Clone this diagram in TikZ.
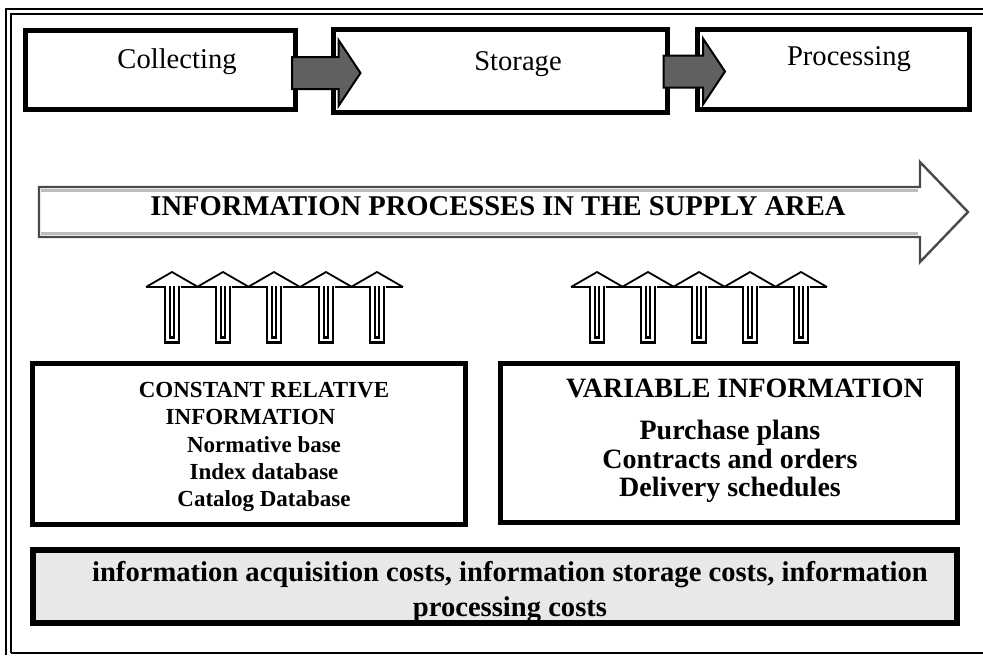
\documentclass[tikz,border=0pt]{standalone}
\usepackage{fontspec}
\setmainfont{Liberation Serif}
\usetikzlibrary{calc}
\definecolor{arrowgrey}{HTML}{606060}
\definecolor{costgrey}{HTML}{E8E8E8}
\definecolor{edgegrey}{HTML}{4A4A4A}
\definecolor{bevel}{HTML}{BDBDBD}

\begin{document}
\begin{tikzpicture}[x=0.5pt,y=-0.5pt,
    frame/.style={line width=1pt},
    stagebox/.style={draw,line width=2.5pt,inner sep=0pt},
    infobox/.style={draw,line width=2.5pt,inner sep=0pt},
    stagetext/.style={font=\fontsize{14.3}{17}\selectfont,anchor=base,inner sep=0pt},
    blockarrow/.style={draw,fill=arrowgrey,line width=1pt,line join=miter},
    headline/.style={line width=0.9pt},
    shaft/.style={double,double distance=1.35pt,line width=1.2pt}]
  \useasboundingbox (0,0) rectangle (983,655);

  % double frame, open on the right
  \draw[frame] (6,655) -- (6,9) -- (983,9);
  \draw[frame] (11,653) -- (11,14) -- (983,14);
  \draw[frame] (11,653) -- (983,653);

  % the three stages
  \node[stagebox,minimum width=135pt,minimum height=39.5pt] (collect) at (160.5,70) {};
  \node[stagebox,minimum width=167pt,minimum height=41.5pt] (store) at (500,71) {};
  \node[stagebox,minimum width=136pt,minimum height=40pt] (process) at (833.5,69.5) {};
  \node[stagetext] (collect text) at (177,68) {Collecting};
  \node[stagetext] (store text) at (518,70) {Storage};
  \node[stagetext] (process text) at (849,65) {Processing};

  % grey block arrows between the stages
  \foreach \a/\b in {collect/store,store/process} {
    \coordinate (head) at ($(\b.west)+(8,2)$);
    \coordinate (tail) at ($(\a.east)+(-6,0)$);
    \coordinate (base) at (tail |- head);
    \draw[blockarrow] ($(base)+(0,-16)$) -- ($(head)+(0,-16)$) -- ($(head)+(0,-33)$)
      -- ($(head)+(22,0)$) -- ($(head)+(0,33)$) -- ($(head)+(0,16)$)
      -- ($(base)+(0,16)$) -- cycle;
  }

  % long arrow
  \draw[fill=white,draw=edgegrey,line width=1.2pt,line join=miter]
    (39,187) -- (920,187) -- (920,162) -- (968,212) -- (920,262) -- (920,237) -- (39,237) -- cycle;
  \draw[bevel,line width=1.5pt] (41,190.5) -- (918,190.5);
  \draw[bevel,line width=1.5pt] (41,233.5) -- (918,233.5);
  \node[font=\bfseries\fontsize{14.3}{17}\selectfont,anchor=base] (flow) at (498,215)
    {INFORMATION PROCESSES IN THE SUPPLY AREA};

  % two rows of hollow up arrows
  \foreach \cx in {172,223,274,326,377,597,648,699,750,801} {
    \draw[headline] (\cx-26,287) -- (\cx,272) -- (\cx+26,287);
    \draw[headline] (\cx-26,287) -- (\cx-8.5,287);
    \draw[headline] (\cx+8.5,287) -- (\cx+26,287);
    \draw[shaft] (\cx-4.6,286) -- (\cx-4.6,340) -- (\cx+4.6,340) -- (\cx+4.6,286);
  }

  % information boxes
  \node[infobox,minimum width=216.5pt,minimum height=80.5pt] (const) at (249,444) {};
  \node[font=\fontsize{11.5}{13.6}\selectfont\bfseries,align=center] (const text) at (264,447)
    {CONSTANT RELATIVE\\INFORMATION\rule{13.5pt}{0pt}\\Normative base\\Index database\\Catalog Database};

  \node[infobox,minimum width=228.5pt,minimum height=79.5pt] (var) at (729,443) {};
  \node[font=\fontsize{14}{14.25}\selectfont\bfseries,align=center] (var text) at (730,441)
    {\rule{15pt}{0pt}VARIABLE INFORMATION\\[6.75pt]Purchase plans\\Contracts and orders\\Delivery schedules};

  % costs
  \node[draw,fill=costgrey,line width=3pt,inner sep=0pt,minimum width=462pt,minimum height=36.5pt] (costs) at (495,586.5) {};
  \node[font=\fontsize{14.3}{17.5}\selectfont\bfseries,align=center] (cost text) at (510,592)
    {information acquisition costs, information storage costs, information\\processing costs};
\end{tikzpicture}
\end{document}
